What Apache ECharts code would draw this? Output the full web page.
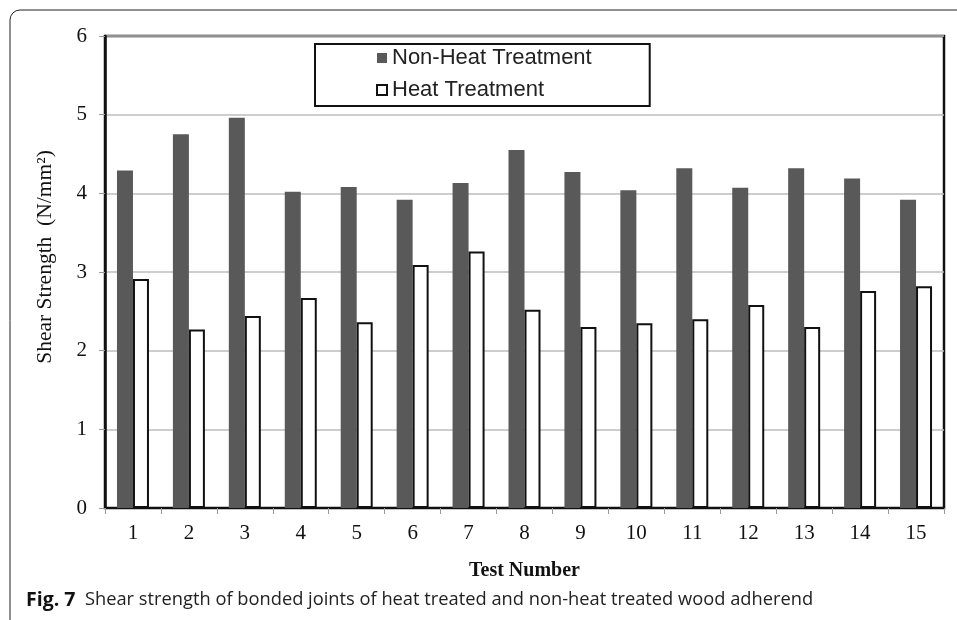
<!DOCTYPE html>
<html>
<head>
  <meta charset="utf-8">
  <title>Shear strength</title>
  <style type="text/css">
    html, body, #main {
      height: 100%;
      width: 100%;
      margin: 0;
      padding: 0;
      background: #fff;
    }
  </style>
  <script src="https://cdn.jsdelivr.net/npm/echarts@6/dist/echarts.min.js"></script>
</head>
<body>
  <div id="main"></div>
  <script>
    // test numbers along the x axis
    var tests = ['1', '2', '3', '4', '5', '6', '7', '8', '9', '10', '11', '12', '13', '14', '15'];
    // shear strength, N/mm2
    var nonHeat = [4.29, 4.75, 4.96, 4.02, 4.08, 3.92, 4.13, 4.55, 4.27, 4.04, 4.32, 4.07, 4.32, 4.19, 3.92];
    var heat = [2.91, 2.27, 2.44, 2.67, 2.36, 3.09, 3.26, 2.52, 2.30, 2.35, 2.40, 2.58, 2.30, 2.76, 2.82];
    var yTicks = [0, 1, 2, 3, 4, 5, 6];

    var serif = '"Liberation Serif", "DejaVu Serif", serif';
    var sans = '"Liberation Sans", Arial, sans-serif';
    var caption = '"Open Sans", "Noto Sans", sans-serif';

    var myChart = echarts.init(document.getElementById('main'), null, { renderer: 'canvas' });

    myChart.setOption({
      backgroundColor: '#fff',
      animation: false,
      grid: {
        left: 105,
        right: 13,
        top: 36,
        bottom: 112,
        show: true,
        borderColor: '#111',
        borderWidth: 2.5,
        containLabel: false
      },
      legend: {
        orient: 'vertical',
        left: 315,
        top: 44,
        padding: [3, 58, 5, 61],
        itemWidth: 10,
        itemHeight: 10,
        itemGap: 10,
        borderColor: '#111',
        borderWidth: 2,
        icon: 'rect',
        textStyle: { fontFamily: sans, fontSize: 22, color: '#222' },
        data: ['Non-Heat Treatment', 'Heat Treatment']
      },
      xAxis: {
        type: 'category',
        data: tests,
        name: 'Test Number',
        nameLocation: 'middle',
        nameGap: 53,
        nameTextStyle: { fontFamily: serif, fontSize: 20, fontWeight: 'bold', color: '#111' },
        axisLine: { lineStyle: { color: '#111', width: 2 } },
        axisTick: { show: true, length: 6, lineStyle: { color: '#999', width: 1 } },
        axisLabel: { fontFamily: serif, fontSize: 21, color: '#111', margin: 15 }
      },
      yAxis: {
        type: 'value',
        min: yTicks[0],
        max: yTicks[yTicks.length - 1],
        interval: 1,
        name: 'Shear Strength  (N/mm\u00b2)',
        nameLocation: 'middle',
        nameGap: 49,
        nameTextStyle: { fontFamily: serif, fontSize: 21.5, color: '#111', padding: [0, 0, 0, 30] },
        axisLine: { show: true, lineStyle: { color: '#111', width: 2.5 } },
        axisTick: { show: true, length: 6, lineStyle: { color: '#999', width: 1 } },
        axisLabel: { fontFamily: serif, fontSize: 21, color: '#111', margin: 18 },
        splitLine: { lineStyle: { color: '#bdbdbd', width: 1.5 } }
      },
      series: [
        {
          name: 'Non-Heat Treatment',
          type: 'bar',
          data: nonHeat,
          barWidth: 16,
          barGap: '0%',
          itemStyle: { color: '#595959' }
        },
        {
          name: 'Heat Treatment',
          type: 'bar',
          data: heat,
          barWidth: 16,
          itemStyle: { color: '#fff', borderColor: '#111', borderWidth: 2 }
        }
      ],
      graphic: [
        {
          type: 'rect',
          silent: true,
          z: -1,
          shape: { x: 10, y: 10, width: 1000, height: 640, r: 10 },
          style: { fill: 'none', stroke: '#222', lineWidth: 1 }
        },
        {
          type: 'text',
          left: 26,
          top: 590,
          style: {
            rich: {
              b: { fontFamily: caption, fontSize: 19.5, fontWeight: 'bold', fill: '#111' },
              n: { fontFamily: caption, fontSize: 18.3, fill: '#222' }
            },
            text: '{b|Fig. 7}{n|  Shear strength of bonded joints of heat treated and non-heat treated wood adherend}'
          }
        }
      ]
    });
  </script>
</body>
</html>
